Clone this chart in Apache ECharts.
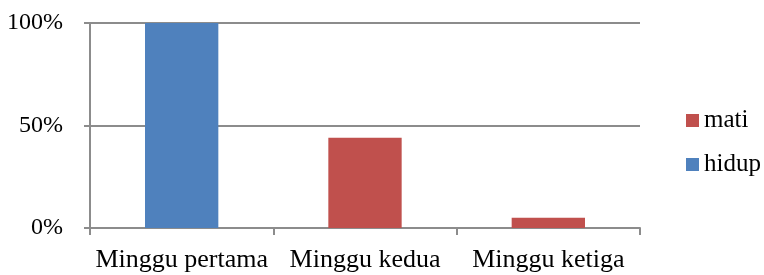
<!DOCTYPE html>
<html>
<head>
<meta charset="utf-8">
<script src="https://cdn.jsdelivr.net/npm/echarts@6/dist/echarts.min.js"></script>
<style>
html, body { margin: 0; padding: 0; background: #fff; }
#chart { width: 764px; height: 275px; }
</style>
</head>
<body>
<div id="chart"></div>
<script>
var categories = ['Minggu pertama', 'Minggu kedua', 'Minggu ketiga'];
var matiData = [0, 44, 5];
var hidupData = [100, 0, 0];
var yTicks = ['0%', '50%', '100%'];

var fontFam = '"Liberation Serif", "Times New Roman", serif';
var axisGray = '#8c8c8c';

var option = {
    animation: false,
    grid: {
        left: 90,
        right: 124,
        top: 23,
        bottom: 47
    },
    legend: {
        orient: 'vertical',
        left: 681,
        top: 103,
        itemWidth: 13,
        itemHeight: 13,
        itemGap: 19,
        icon: 'rect',
        textStyle: { fontFamily: fontFam, fontSize: 25, color: '#000' },
        data: ['mati', 'hidup']
    },
    xAxis: {
        type: 'category',
        data: categories,
        axisLine: { lineStyle: { color: axisGray, width: 2 } },
        axisTick: { show: true, length: 7, interval: 0, lineStyle: { color: axisGray, width: 2 } },
        axisLabel: { margin: 19, fontFamily: fontFam, fontSize: 26, color: '#000', interval: 0 }
    },
    yAxis: {
        type: 'value',
        min: 0,
        max: 100,
        interval: 50,
        axisLine: { show: true, lineStyle: { color: axisGray, width: 2 } },
        axisTick: { show: true, length: 6, lineStyle: { color: axisGray, width: 2 } },
        splitLine: { lineStyle: { color: axisGray, width: 2 } },
        axisLabel: {
            margin: 27,
            fontFamily: fontFam,
            fontSize: 24,
            color: '#000',
            formatter: function (v) { return yTicks[v / 50]; }
        }
    },
    series: [
        {
            name: 'mati',
            type: 'bar',
            stack: 'total',
            barWidth: '40%',
            itemStyle: { color: '#C0504D' },
            data: matiData
        },
        {
            name: 'hidup',
            type: 'bar',
            stack: 'total',
            barWidth: '40%',
            itemStyle: { color: '#4F81BD' },
            data: hidupData
        }
    ]
};

var chart = echarts.init(document.getElementById('chart'));
chart.setOption(option);
</script>
</body>
</html>
